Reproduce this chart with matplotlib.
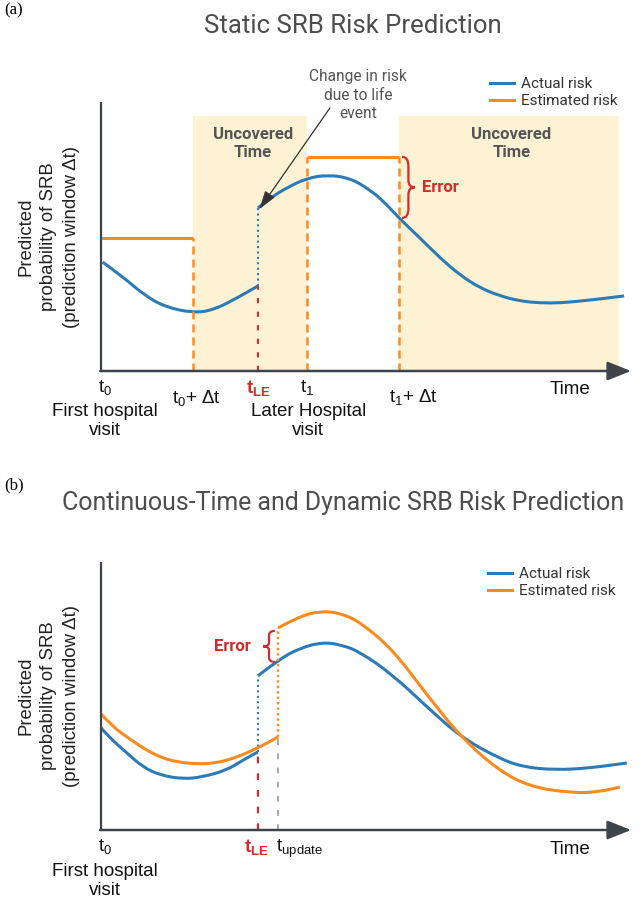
import matplotlib
matplotlib.use('Agg')
import matplotlib.pyplot as plt
from matplotlib.path import Path
from matplotlib.patches import PathPatch
from matplotlib.lines import Line2D

plt.rcParams['mathtext.fontset'] = 'custom'
plt.rcParams['mathtext.rm'] = 'Liberation Sans'
plt.rcParams['mathtext.bf'] = 'Liberation Sans:bold'

# ---------------- data (time 0-100, risk 0-100) ----------------
# Panel (a): static prediction
a_t_LE = 29.6
a_t0_dt = 17.4
a_t1 = 38.9
a_t1_dt = 56.2
a_uncovered = [(17.4, 38.9), (56.2, 97.7)]
a_uncovered_top = 94.8
a_est_level_0 = 49.4
a_est_level_1 = 79.6
a_act1_t = [0.3, 4.2, 8.1, 12.1, 17.4, 21.3, 26.0, 29.6]
a_act1_r = [40.5, 34.9, 28.3, 23.8, 21.6, 22.7, 27.5, 31.6]
a_act2_t = [29.6, 31.9, 35.3, 38.9, 42.8, 47.0, 50.8, 53.6, 56.2, 60.2, 64.0,
            67.7, 71.5, 75.3, 79.1, 82.8, 86.6, 90.4, 94.2, 98.7]
a_act2_r = [60.6, 64.3, 68.4, 71.7, 72.9, 71.7, 67.3, 62.5, 56.9, 49.4, 42.0,
            35.7, 30.9, 27.9, 26.0, 25.3, 25.3, 26.0, 26.8, 27.9]

# Panel (b): continuous-time dynamic prediction
b_t_LE = 29.6
b_t_upd = 33.4
b_act1_t = [0, 1.7, 4.9, 7.9, 11.1, 15.5, 19.2, 23.8, 26.8, 29.6]
b_act1_r = [38.1, 34.3, 28.7, 23.5, 20.5, 19.0, 19.8, 22.4, 26.1, 29.1]
b_est1_t = [0, 2.3, 4.9, 7.9, 11.1, 14.3, 18.1, 21.9, 25.7, 29.6, 33.4]
b_est1_r = [43.3, 38.4, 34.7, 30.6, 27.2, 25.4, 24.6, 25.0, 27.2, 30.6, 34.7]
b_act2_t = [29.6, 33.4, 37.5, 41.9, 45.5, 48.9, 55.1, 61.5, 67.9, 74.9, 79.6,
            85.8, 92.1, 99.2]
b_act2_r = [57.5, 63.4, 67.9, 70.1, 69.0, 66.4, 57.8, 45.9, 34.7, 26.9, 23.5,
            22.4, 23.1, 25.0]
b_est2_t = [33.4, 37.2, 41.3, 45.1, 48.9, 55.1, 61.5, 67.9, 74.9, 81.1, 89.1,
            93.8, 97.9]
b_est2_r = [75.4, 79.5, 81.7, 81.0, 77.6, 67.2, 50.4, 34.7, 22.4, 16.0, 13.8,
            14.2, 16.0]

legend_labels = ['Actual risk', 'Estimated risk']

# ---------------- style ----------------
BLUE = '#2c7bb6'
ORANGE = '#fb8a1f'
SHADE = '#fdf3d4'
AXC = '#3e444b'
RED = '#d42a2a'
TXT_GRAY = '#4d4d4d'
LW = 2.2
SANS = ['Roboto', 'DejaVu Sans']
TICKF = ['Liberation Sans', 'DejaVu Sans']

W, H = 644, 900
fig = plt.figure(figsize=(W / 100, H / 100), dpi=100)


def px_axes(left, top, right, bottom):
    return fig.add_axes([left / W, 1 - bottom / H, (right - left) / W, (bottom - top) / H])


def fx(x):
    return x / W


def fy(y):
    return 1 - y / H


def smooth_line(ax, t, r, **kw):
    """Draw the read points as a smooth quadratic-Bezier path."""
    pts = list(zip(t, r))
    verts = [pts[0]]
    codes = [Path.MOVETO]
    for i in range(1, len(pts) - 1):
        mid = ((pts[i][0] + pts[i + 1][0]) / 2, (pts[i][1] + pts[i + 1][1]) / 2)
        verts += [pts[i], mid]
        codes += [Path.CURVE3, Path.CURVE3]
    verts.append(pts[-1])
    codes.append(Path.LINETO)
    ax.add_patch(PathPatch(Path(verts, codes), fill=False, capstyle='butt',
                           joinstyle='round', **kw))


def brace(ax, x_end, x_tip, y_top, y_bot, **kw):
    xm = (x_end + x_tip) / 2
    ym = (y_top + y_bot) / 2
    h = y_top - y_bot
    verts = [(x_end, y_top), (xm, y_top), (xm, y_top - 0.15 * h),
             (xm, ym + 0.12 * h),
             (xm, ym), (x_tip, ym),
             (xm, ym), (xm, ym - 0.12 * h),
             (xm, y_bot + 0.15 * h),
             (xm, y_bot), (x_end, y_bot)]
    codes = [Path.MOVETO, Path.CURVE3, Path.CURVE3, Path.LINETO,
             Path.CURVE3, Path.CURVE3, Path.CURVE3, Path.CURVE3,
             Path.LINETO, Path.CURVE3, Path.CURVE3]
    ax.add_patch(PathPatch(Path(verts, codes), fill=False, **kw))


axA = px_axes(101, 102, 631, 371)
axB = px_axes(101, 562, 631, 830)

for ax in (axA, axB):
    ax.set_xlim(0, 100)
    ax.set_ylim(0, 100)
    ax.axis('off')
    ax.plot([0, 0], [0, 100], color=AXC, lw=1.6, clip_on=False,
            solid_capstyle='butt', zorder=5)
    ax.annotate('', xy=(100, 0), xytext=(-0.15, 0),
                arrowprops=dict(arrowstyle='-|>,head_length=0.8,head_width=0.32',
                                color=AXC, lw=1.8, shrinkA=0, shrinkB=0,
                                mutation_scale=18),
                annotation_clip=False, zorder=5)
    ax.legend(handles=[Line2D([], [], color=BLUE, lw=LW),
                       Line2D([], [], color=ORANGE, lw=LW)],
              labels=legend_labels, loc='upper left', frameon=False,
              borderpad=0, borderaxespad=0, handlelength=1.55,
              handletextpad=0.5, labelspacing=0.22,
              prop=dict(family=SANS, size=11), labelcolor='#333333',
              bbox_transform=fig.transFigure,
              bbox_to_anchor=(fx(490), fy(77)) if ax is axA else (fx(488), fy(567)))

ylabel = 'Predicted\nprobability of SRB\n(prediction window Δt)'

# ================= Panel (a) =================
fig.text(fx(4), fy(10), '(a)', family=['Liberation Serif', 'DejaVu Serif'],
         fontsize=12, ha='left', va='center')
fig.text(fx(353), fy(26), 'Static SRB Risk Prediction', family=SANS,
         fontsize=18.5, ha='center', va='center', color=TXT_GRAY)
fig.text(fx(49), fy(237), ylabel, rotation=90, ha='center', va='center',
         multialignment='center', family=TICKF, fontsize=13.4,
         linespacing=1.45, color='#222222')

for (x0, x1) in a_uncovered:
    axA.axvspan(x0, x1, ymin=0, ymax=a_uncovered_top / 100, color=SHADE,
                lw=0, zorder=0)
    axA.text((x0 + x1) / 2 + 0.5, 84.6, 'Uncovered\nTime', ha='center',
             va='center', family=SANS, fontweight='bold', fontsize=12,
             color='#555555', linespacing=1.3)

# estimated risk (static)
axA.plot([0, a_t0_dt], [a_est_level_0] * 2, color=ORANGE, lw=LW,
         solid_capstyle='butt', clip_on=False)
axA.plot([a_t1, a_t1_dt], [a_est_level_1] * 2, color=ORANGE, lw=LW,
         solid_capstyle='butt')
dash_o = (0, (3.2, 2.0))
axA.plot([a_t0_dt] * 2, [0, a_est_level_0], color=ORANGE, lw=1.8, ls=dash_o)
axA.plot([a_t1] * 2, [0, a_est_level_1], color=ORANGE, lw=1.8, ls=dash_o)
axA.plot([a_t1_dt] * 2, [0, a_est_level_1], color=ORANGE, lw=1.8, ls=dash_o)

# actual risk
smooth_line(axA, a_act1_t, a_act1_r, color=BLUE, lw=LW)
smooth_line(axA, a_act2_t, a_act2_r, color=BLUE, lw=LW)
axA.plot([a_t_LE] * 2, [a_act1_r[-1], a_act2_r[0]], color=BLUE, lw=1.5,
         ls=(0, (1, 1.6)))
axA.plot([a_t_LE] * 2, [0, a_act1_r[-1]], color=RED, lw=1.5, ls=(0, (2.5, 4)))

# error brace
brace(axA, 56.8, 59.2, a_est_level_1, 56.9, color=RED, lw=1.6)
axA.text(60.6, 68.4, 'Error', color=RED, fontweight='bold', family=SANS,
         fontsize=12, ha='left', va='center')

# annotation
fig.text(fx(358), fy(95), 'Change in risk\ndue to life\nevent', ha='center',
         va='center', family=SANS, fontsize=11.2, color='#555555',
         linespacing=1.28)
axA.annotate('', xy=(29.9, 60.2), xytext=(43.2, 97.8),
             arrowprops=dict(arrowstyle='-|>,head_length=0.7,head_width=0.22',
                             color='#333333', lw=0.9, mutation_scale=16,
                             shrinkA=0, shrinkB=0),
             annotation_clip=False)

# x labels
xtA = axA.get_xaxis_transform()
hA = 269.0
lab_kw = dict(family=TICKF, fontsize=13.5, color='#111111', ha='center', va='center')
axA.text(0.8, -17 / hA, r'$\mathrm{t}_0$', transform=xtA, **lab_kw)
axA.text(0.8, -50 / hA, 'First hospital\nvisit', transform=xtA, linespacing=1.2, **lab_kw)
axA.text(18.1, -28 / hA, r'$\mathrm{t}_0$+ Δt', transform=xtA, **lab_kw)
axA.text(a_t_LE, -18 / hA, r'$\mathbf{t}_{\mathbf{LE}}$', transform=xtA,
         **{**lab_kw, 'color': RED})
axA.text(38.9, -17 / hA, r'$\mathrm{t}_1$', transform=xtA, **lab_kw)
axA.text(39.1, -50 / hA, 'Later Hospital\nvisit', transform=xtA, linespacing=1.2, **lab_kw)
axA.text(58.9, -27 / hA, r'$\mathrm{t}_1$+ Δt', transform=xtA, **lab_kw)
axA.text(88.5, -18 / hA, 'Time', transform=xtA, **lab_kw)

# ================= Panel (b) =================
fig.text(fx(4), fy(485), '(b)', family=['Liberation Serif', 'DejaVu Serif'],
         fontsize=12, ha='left', va='center')
fig.text(fx(62), fy(503), 'Continuous-Time and Dynamic SRB Risk Prediction',
         family=SANS, fontsize=17.9, ha='left', va='center', color=TXT_GRAY)
fig.text(fx(49), fy(696), ylabel, rotation=90, ha='center', va='center',
         multialignment='center', family=TICKF, fontsize=13.4,
         linespacing=1.45, color='#222222')

smooth_line(axB, b_est1_t, b_est1_r, color=ORANGE, lw=LW, zorder=3)
smooth_line(axB, b_est2_t, b_est2_r, color=ORANGE, lw=LW, zorder=3)
smooth_line(axB, b_act1_t, b_act1_r, color=BLUE, lw=LW, zorder=2)
smooth_line(axB, b_act2_t, b_act2_r, color=BLUE, lw=LW, zorder=2)

axB.plot([b_t_LE] * 2, [b_act1_r[-1], b_act2_r[0]], color=BLUE, lw=1.5,
         ls=(0, (1, 1.6)))
axB.plot([b_t_LE] * 2, [0, b_act1_r[-1]], color=RED, lw=1.6, ls=(0, (3, 4.5)))
axB.plot([b_t_upd] * 2, [b_est1_r[-1], b_est2_r[0]], color=ORANGE, lw=1.7,
         ls=(0, (1, 1.3)))
axB.plot([b_t_upd] * 2, [0, b_est1_r[-1]], color='#9a9a9a', lw=1.2,
         ls=(0, (3.5, 5)))

brace(axB, 32.8, 30.6, 74.3, 62.7, color=RED, lw=1.6)
axB.text(28.3, 68.3, 'Error', color=RED, fontweight='bold', family=SANS,
         fontsize=12, ha='right', va='center')

xtB = axB.get_xaxis_transform()
hB = 268.0
axB.text(0.8, -17 / hB, r'$\mathrm{t}_0$', transform=xtB, **lab_kw)
axB.text(0.8, -51 / hB, 'First hospital\nvisit', transform=xtB, linespacing=1.2, **lab_kw)
axB.text(b_t_LE - 0.2, -18 / hB, r'$\mathbf{t}_{\mathbf{LE}}$', transform=xtB,
         **{**lab_kw, 'color': RED})
axB.text(33.0, -19 / hB, r'$\mathrm{t}_{\mathrm{update}}$', transform=xtB,
         **{**lab_kw, 'ha': 'left'})
axB.text(88.5, -19 / hB, 'Time', transform=xtB, **lab_kw)

fig.savefig('out.png', dpi=100)
